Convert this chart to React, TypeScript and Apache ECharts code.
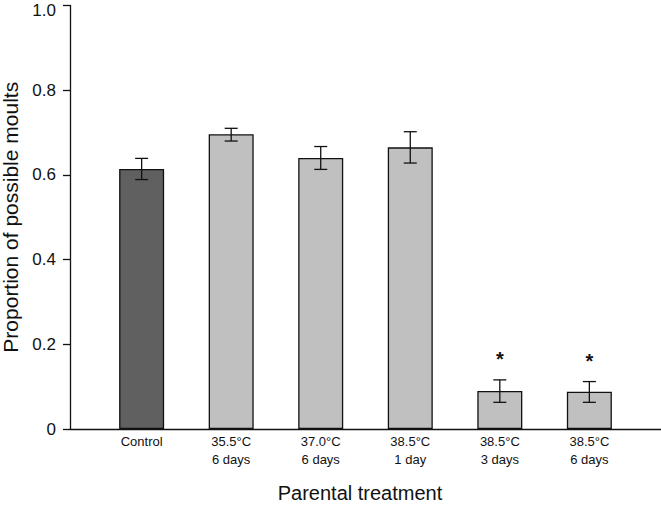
import React, { useEffect, useRef } from "react";
import * as echarts from "echarts";

const categories = [
  "Control",
  "35.5°C\n6 days",
  "37.0°C\n6 days",
  "38.5°C\n1 day",
  "38.5°C\n3 days",
  "38.5°C\n6 days",
];
const proportions = [0.614, 0.696, 0.64, 0.665, 0.09, 0.088];
const errLow = [0.589, 0.68, 0.613, 0.628, 0.063, 0.063];
const errHigh = [0.639, 0.71, 0.667, 0.702, 0.116, 0.112];
const significance = ["", "", "", "", "*", "*"];
const barColors = ["#5f605f", "#c0c0c0", "#c0c0c0", "#c0c0c0", "#c0c0c0", "#c0c0c0"];
const yTicks = [0, 0.2, 0.4, 0.6, 0.8, 1.0];

const FONT = "'Liberation Sans', Arial, sans-serif";

export default function App() {
  const ref = useRef<HTMLDivElement>(null);
  useEffect(() => {
    if (!ref.current) return;
    const chart = echarts.init(ref.current, undefined, { renderer: "svg" });
    chart.setOption({
      animation: false,
      backgroundColor: "#ffffff",
      grid: { left: 70, right: 0, top: 5.5, bottom: 76, containLabel: false, outerBoundsMode: "none" },
      xAxis: {
        type: "value",
        min: -0.8,
        max: 5.8,
        name: "Parental treatment",
        nameLocation: "middle",
        nameGap: 54,
        nameTextStyle: { fontSize: 20, color: "#111", fontFamily: FONT, padding: [0, 11, 0, 0] },
        axisLine: { show: true, onZero: false, lineStyle: { color: "#111", width: 1.3 } },
        axisTick: { show: false },
        splitLine: { show: false },
        axisLabel: {
          customValues: categories.map((_, i) => i),
          formatter: (v: number) => categories[Math.round(v)] ?? "",
          fontSize: 13,
          lineHeight: 18,
          margin: 3,
          color: "#111",
          fontFamily: FONT,
          align: "center",
        },
      },
      yAxis: {
        type: "value",
        min: 0,
        max: 1,
        interval: 0.2,
        name: "Proportion of possible moults",
        nameLocation: "middle",
        nameGap: 48,
        nameTextStyle: { fontSize: 21, color: "#111", fontFamily: FONT },
        axisLine: { show: true, onZero: false, lineStyle: { color: "#111", width: 1.3 } },
        axisTick: { show: true, inside: false, length: 7, lineStyle: { color: "#111", width: 1.3 } },
        splitLine: { show: false },
        axisLabel: {
          customValues: yTicks,
          formatter: (v: number) =>
            v === 0 ? "0" : v >= 1 ? "{top|" + v.toFixed(1) + "}" : v.toFixed(1),
          fontSize: 17,
          margin: 14,
          color: "#111",
          fontFamily: FONT,
          rich: {
            top: { fontSize: 17, color: "#111", fontFamily: FONT, padding: [10, 0, 0, 0] },
          },
        },
      },
      series: [
        {
          type: "bar",
          barWidth: 45,
          data: proportions.map((v, i) => ({
            value: [i, v],
            itemStyle: { color: barColors[i], borderColor: "#111", borderWidth: 1.3 },
          })),
          z: 2,
        },
        {
          type: "custom",
          z: 3,
          data: proportions.map((_, i) => [i, errLow[i], errHigh[i]]),
          renderItem: (params: any, api: any) => {
            const x = api.value(0);
            const lo = api.coord([x, api.value(1)]);
            const hi = api.coord([x, api.value(2)]);
            const cap = 6.5;
            const style = { stroke: "#111", lineWidth: 1.3 };
            const children: any[] = [
              { type: "line", shape: { x1: hi[0], y1: hi[1], x2: lo[0], y2: lo[1] }, style },
              { type: "line", shape: { x1: hi[0] - cap, y1: hi[1], x2: hi[0] + cap, y2: hi[1] }, style },
              { type: "line", shape: { x1: lo[0] - cap, y1: lo[1], x2: lo[0] + cap, y2: lo[1] }, style },
            ];
            const s = significance[params.dataIndex];
            if (s) {
              children.push({
                type: "text",
                x: hi[0],
                y: hi[1] - 21,
                style: {
                  text: s,
                  fontSize: 20,
                  fontWeight: "bold",
                  fontFamily: FONT,
                  fill: "#111",
                  align: "center",
                  verticalAlign: "middle",
                },
              });
            }
            return { type: "group", children };
          },
        },
      ],
    });
    return () => chart.dispose();
  }, []);
  return (
    <div
      ref={ref}
      style={{ position: "fixed", left: 0, top: 0, width: 661, height: 505, background: "#fff" }}
    />
  );
}
